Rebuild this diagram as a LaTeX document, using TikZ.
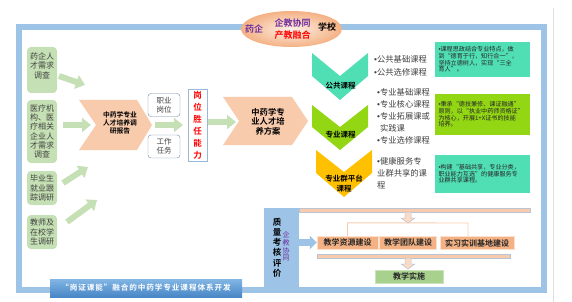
\documentclass[tikz,border=0pt]{standalone}
\usepackage{fontspec}
\setmainfont{Noto Sans CJK SC}[BoldFont={Noto Sans CJK SC Bold}]
\newfontfamily\latinfont{Liberation Sans}
\newcommand{\bul}{{\latinfont •}}
\usetikzlibrary{arrows.meta}
\definecolor{framebl}{RGB}{157,195,230}
\definecolor{boxgreen}{RGB}{197,224,180}
\definecolor{salmon}{RGB}{248,203,173}
\definecolor{deepsalmon}{RGB}{244,177,131}
\definecolor{chteal}{RGB}{80,222,180}
\definecolor{chlime}{RGB}{146,214,20}
\definecolor{chyellow}{RGB}{255,192,0}
\definecolor{implgreen}{RGB}{169,209,142}
\definecolor{txtgray}{RGB}{64,64,64}
\definecolor{cpurple}{RGB}{112,48,160}
\definecolor{boxedge}{RGB}{110,135,165}
\definecolor{capedge}{RGB}{150,185,220}
\definecolor{barline}{RGB}{185,195,212}
\definecolor{bannertop}{RGB}{130,182,228}
\definecolor{bannerbot}{RGB}{72,134,198}
\tikzset{
  srcbox/.style={fill=boxgreen, rounded corners=4pt, minimum width=30pt, inner sep=1pt, align=center, text=txtgray, font=\fontsize{8}{9.3}\selectfont},
  garrow/.style={draw=boxgreen, line width=6pt, -{Triangle[width=14pt,length=9pt]}},
  roundbox/.style={draw=boxedge, fill=white, rounded corners=3pt, minimum width=32pt, minimum height=23pt, inner sep=1pt, align=center, text=txtgray, font=\fontsize{7.5}{9}\selectfont},
  chevlabel/.style={font=\bfseries\fontsize{7.5}{10}\selectfont, align=center, inner sep=0pt},
  bullets/.style={anchor=west, align=left, text=txtgray, inner sep=0pt},
  notebox/.style={text width=88pt, inner sep=3.5pt, align=left, font=\fontsize{6.1}{6.6}\selectfont, text=black!85},
  buildbox/.style={fill=deepsalmon, draw=salmon!60, minimum height=13pt, inner sep=0pt, font=\bfseries\fontsize{8}{9}\selectfont, text=black!85},
  bar/.style={fill=salmon, draw=barline, line width=0.5pt, inner sep=0pt, minimum height=4pt},
  downarrow/.style={fill=salmon!70, draw=barline, line width=0.5pt},
  eltext/.style={font=\bfseries\fontsize{9}{10}\selectfont, inner sep=0pt}
}
\begin{document}
\begin{tikzpicture}[x=1pt, y=-1pt, >=stealth]
    \useasboundingbox (0,0) rectangle (572,302);
    \draw[gray!25, line width=0.6pt] (553,8) -- (553,302);
    \draw[framebl, line width=5.5pt] (19,27) rectangle (544,290);

    \shade[inner color=salmon!30, outer color=deepsalmon] (291.5,29) ellipse [x radius=50.5, y radius=18];
    \node[eltext, text=cpurple] (pharma) at (254,29.5) {药企};
    \node[eltext, text=cpurple] (coopt) at (292.5,23) {企教协同};
    \node[eltext, text=red] (integ) at (292.5,35) {产教融合};
    \node[eltext] (school) at (327,27.5) {学校};

    \node[srcbox, minimum height=46pt] (src1) at (42,70) {药企人\\才需求\\调查\\\mbox{}};
    \node[srcbox, minimum height=63pt] (src2) at (42,131.5) {医疗机\\构、医\\疗相关\\企业人\\才需求\\调查};
    \node[srcbox, minimum height=34pt] (src3) at (42,188) {毕业生\\就业跟\\踪调研};
    \node[srcbox, minimum height=34pt] (src4) at (42,232) {教师及\\在校学\\生调研};

    \coordinate (g1s) at (59,76);  \coordinate (g1e) at (85,85);
    \coordinate (g2s) at (63,125); \coordinate (g2e) at (91,125);
    \coordinate (g3s) at (63,183); \coordinate (g3e) at (88,167);
    \coordinate (g4s) at (67,222); \coordinate (g4e) at (97,200);
    \draw[garrow] (g1s) -- (g1e);
    \draw[garrow] (g2s) -- (g2e);
    \draw[garrow] (g3s) -- (g3e);
    \draw[garrow] (g4s) -- (g4e);

    \fill[salmon] (79,100) -- (137,100) -- (152,125) -- (137,150) -- (79,150) -- (96,125) -- cycle;
    \node[chevlabel, font=\bfseries\fontsize{6.8}{8}\selectfont] (rep) at (120,123) {中药学专业\\人才培养调\\研报告};

    \node[roundbox] (post) at (164,105) {职业\\岗位};
    \node[roundbox] (task) at (164,146.5) {工作\\任务};
    \coordinate (g5s) at (155,125); \coordinate (g5e) at (183,125);
    \draw[garrow] (g5s) -- (g5e);

    \node[draw=capedge, fill=white, minimum width=19pt, minimum height=72pt, inner sep=0pt, align=center, text=red, font=\bfseries\fontsize{8.5}{12}\selectfont] (cap) at (197.5,125) {岗\\位\\胜\\任\\能\\力};
    \coordinate (g6s) at (208,122); \coordinate (g6e) at (236,122);
    \draw[garrow] (g6s) -- (g6e);

    \fill[salmon] (223,97) -- (292,97) -- (308,121) -- (292,145) -- (223,145) -- (239,121) -- cycle;
    \node[chevlabel, font=\bfseries\fontsize{8.3}{9.5}\selectfont] (plan) at (268,121.5) {中药学专\\业人才培\\养方案};

    \fill[chteal] (312,53) -- (340,76) -- (368,53) -- (368,76) -- (340,100) -- (312,76) -- cycle;
    \node[chevlabel] (pubc) at (340.5,86) {公共课程};
    \fill[chlime] (312,105) -- (340,127) -- (368,105) -- (368,127) -- (340,150) -- (312,127) -- cycle;
    \node[chevlabel] (majc) at (340.5,135) {专业课程};
    \fill[chyellow] (316,150) -- (344,172) -- (372,150) -- (372,173) -- (344,197) -- (316,173) -- cycle;
    \node[chevlabel] (grpc) at (344,184) {专业群平台\\课程};

    \node[bullets, font=\fontsize{8.3}{13.3}\selectfont] (publist) at (374,66) {\bul 公共基础课程\\\bul 公共选修课程};
    \node[bullets, font=\fontsize{8.3}{12}\selectfont] (majlist) at (377,116.7) {\bul 专业基础课程\\\bul 专业核心课程\\\bul 专业拓展课或\\\phantom{\bul}实践课\\\bul 专业选修课程};
    \node[bullets, font=\fontsize{8.3}{11.7}\selectfont] (grplist) at (377,173.3) {\bul 健康服务专\\业群共享的课\\程};

    \node[notebox, fill=chteal, minimum height=35pt] (notea) at (482.5,59.5) {\bul 课程思政结合专业特点，做\\到“德育于行，知行合一”，\\坚持立德树人，实现“三全\\育人”。};
    \node[notebox, fill=chlime, minimum height=41pt] (noteb) at (482.5,114.5) {\bul 秉承“德技兼修、课证融通”\\原则，以“执业中药师资格证”\\为核心，开展1+X证书的技能\\培养。};
    \node[notebox, fill=chteal, minimum height=38pt] (notec) at (482.5,174) {\bul 构建“基础共享，专业分类，\\职业能力互选”的健康服务专\\业群共享课程。};

    \node[fill=framebl, minimum width=35pt, minimum height=82pt, inner sep=0pt] (qa) at (281.5,249) {};
    \node[font=\bfseries\fontsize{8.5}{10.2}\selectfont, align=center, inner sep=0pt] (qatext) at (277,247.5) {质\\量\\考\\核\\评\\价};
    \node[font=\fontsize{7}{7.7}\selectfont, align=center, text=cpurple, inner sep=0pt] (coop) at (286,246.5) {企\\教\\协\\同};

    \node[bar, minimum width=231pt] (bar1) at (414.5,210) {};
    \node[buildbox, minimum width=61pt] (res) at (347.5,242.5) {教学资源建设};
    \node[buildbox, minimum width=57pt] (team) at (408,242.5) {教学团队建设};
    \node[buildbox, minimum width=74pt] (base) at (477,243) {实习实训基地建设};
    \draw[salmon, line width=0.9pt] (res.north) -- ++(0,-13) -- (468,223) -- (468,236.5);
    \draw[downarrow] (405,212) -- (411,212) -- (411,218) -- (415,218) -- (408,223) -- (401,218) -- (405,218) -- cycle;
    \draw[framebl, line width=7pt, -{Triangle[width=13pt,length=7pt]}] (qa.east |- res.west) -- (res.west);

    \node[bar, minimum width=193pt] (bar2) at (413.5,256) {};
    \draw[downarrow] (405,258) -- (411,258) -- (411,264) -- (415,264) -- (408,269) -- (401,264) -- (405,264) -- cycle;
    \node[buildbox, fill=implgreen, draw=implgreen!60, minimum width=68pt] (impl) at (409,276.5) {教学实施};

    \node[top color=bannertop, bottom color=bannerbot, minimum width=192pt, minimum height=18pt, inner sep=0pt, text=white, font=\bfseries\fontsize{7.6}{9}\selectfont] (title) at (146,288) {\addfontfeature{LetterSpace=12}“岗证课能”融合的中药学专业课程体系开发};
\end{tikzpicture}
\end{document}
